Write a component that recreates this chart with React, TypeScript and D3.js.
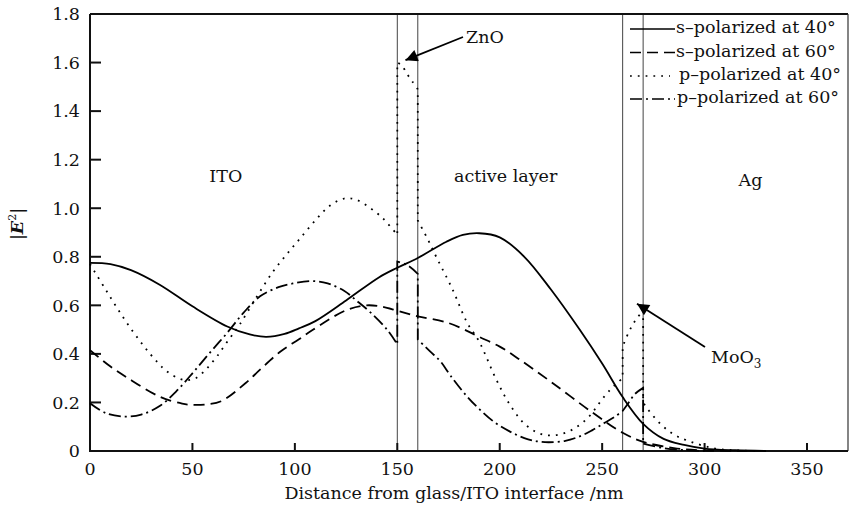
import React from "react";
import * as d3 from "d3";

type Pt = [number, number];

// Axis ticks and layer interfaces (nm)
const xTicks = [0, 50, 100, 150, 200, 250, 300, 350];
const yTicks = [0, 0.2, 0.4, 0.6, 0.8, 1.0, 1.2, 1.4, 1.6, 1.8];
const interfaces = [150, 160, 260, 270];

// |E|^2 for s-polarized light at 40° (continuous across interfaces)
const sPol40: Pt[] = [
  [0, 0.775], [10, 0.77], [20, 0.745], [34, 0.685], [50, 0.596], [67, 0.513],
  [78, 0.48], [86, 0.47], [95, 0.482], [102, 0.505], [110, 0.535], [125, 0.62],
  [141, 0.715], [150, 0.755], [160, 0.795], [174, 0.862], [182, 0.89], [190, 0.897],
  [200, 0.88], [212, 0.8], [225, 0.665], [239, 0.5], [250, 0.36], [260, 0.222],
  [270, 0.112], [280, 0.05], [290, 0.025], [300, 0.01], [315, 0.003], [330, 0],
];

// s-polarized at 60°
const sPol60: Pt[] = [
  [0, 0.415], [10, 0.348], [18, 0.303], [34, 0.224], [45, 0.195], [50, 0.19],
  [57, 0.192], [64, 0.205], [76, 0.28], [83, 0.335], [93, 0.41], [102, 0.46],
  [109, 0.5], [125, 0.58], [135, 0.6], [142, 0.595], [150, 0.578], [160, 0.555],
  [174, 0.53], [184, 0.495], [190, 0.47], [200, 0.43], [210, 0.375], [225, 0.285],
  [245, 0.16], [260, 0.075], [270, 0.038], [285, 0.012], [300, 0.002], [320, 0],
];

// p-polarized at 40°, one array per layer (ITO, ZnO, active, MoO3, Ag)
const pPol40Ito: Pt[] = [
  [0, 0.77], [8, 0.66], [17, 0.54], [26, 0.435], [33, 0.365], [38, 0.325], [44, 0.297],
  [48, 0.292], [52, 0.302], [57, 0.34], [62, 0.39], [67, 0.45], [73, 0.52], [81, 0.63],
  [89, 0.735], [96, 0.81], [102, 0.87], [110, 0.95], [117, 1.01], [124, 1.04],
  [130, 1.035], [140, 0.98], [145, 0.94], [150, 0.89],
];
const pPol40ZnO: Pt[] = [[150, 1.6], [152, 1.59], [155, 1.55], [157.5, 1.52], [160, 1.49]];
const pPol40Active: Pt[] = [
  [160, 0.95], [165, 0.87], [169, 0.8], [177, 0.665], [184, 0.53], [190, 0.45],
  [198, 0.3], [205, 0.19], [213, 0.105], [222, 0.066], [232, 0.075], [242, 0.128],
  [251, 0.224], [256, 0.27], [260, 0.3],
];
const pPol40MoO3: Pt[] = [[260, 0.43], [263, 0.49], [266, 0.535], [270, 0.58]];
const pPol40Ag: Pt[] = [
  [270, 0.2], [272, 0.175], [279, 0.107], [285, 0.068], [291, 0.045], [304, 0.012],
  [315, 0.003], [325, 0],
];

// p-polarized at 60°, one array per layer
const pPol60Ito: Pt[] = [
  [0, 0.197], [8, 0.155], [17, 0.142], [25, 0.15], [34, 0.185], [42, 0.245], [50, 0.32],
  [58, 0.4], [67, 0.487], [75, 0.57], [83, 0.637], [92, 0.675], [99, 0.69], [108, 0.7],
  [116, 0.69], [124, 0.66], [130, 0.62], [137, 0.57], [145, 0.5], [150, 0.44],
];
const pPol60ZnO: Pt[] = [[150, 0.78], [155, 0.765], [160, 0.73]];
const pPol60Active: Pt[] = [
  [160, 0.46], [166, 0.41], [171, 0.37], [176, 0.31], [184, 0.225], [191, 0.165],
  [198, 0.115], [205, 0.08], [212, 0.053], [218, 0.04], [224, 0.036], [232, 0.042],
  [239, 0.06], [245, 0.085], [251, 0.115], [256, 0.14], [260, 0.165],
];
const pPol60MoO3: Pt[] = [[260, 0.165], [263, 0.2], [266, 0.235], [270, 0.26]];
const pPol60Ag: Pt[] = [[270, 0.03], [280, 0.012], [290, 0.004], [300, 0]];

const seriesLabels = [
  "s–polarized at 40°",
  "s–polarized at 60°",
  "p–polarized at 40°",
  "p–polarized at 60°",
];

const W = 849;
const H = 505;
const FONT = "'DejaVu Serif', serif";

const x = d3.scaleLinear().domain([0, 370]).range([90, 848]);
const y = d3.scaleLinear().domain([0, 1.8]).range([451, 14]);

const lineGen = d3
  .line<Pt>()
  .x((d) => x(d[0]))
  .y((d) => y(d[1]))
  .curve(d3.curveCatmullRom.alpha(0.5));

// Joins layer segments into one stroke so the jumps at interfaces are drawn vertically
function joinedPath(segments: Pt[][]): string {
  return segments
    .map((seg, i) => {
      const d = lineGen(seg) || "";
      return i === 0 ? d : "L" + d.slice(1);
    })
    .join("");
}

const styles = [
  { dash: "none" },
  { dash: "11,6" },
  { dash: "1.8,6" },
  { dash: "12,4,2,4" },
];

const paths = [
  joinedPath([sPol40]),
  joinedPath([sPol60]),
  joinedPath([pPol40Ito, pPol40ZnO, pPol40Active, pPol40MoO3, pPol40Ag]),
  joinedPath([pPol60Ito, pPol60ZnO, pPol60Active, pPol60MoO3, pPol60Ag]),
];

export default function App() {
  const fs = 17.5;
  const legendX0 = 630;
  const legendRows = [33, 56.5, 80, 103];
  const legendLineEnd = [675, 675, 670, 675];
  const legendTextX = [676, 676, 679, 677];

  return (
    <svg
      width={W}
      height={H}
      style={{ position: "absolute", left: 0, top: 0, background: "#fff" }}
      fontFamily={FONT}
    >
      <defs>
        <marker
          id="arrowHeadBig"
          viewBox="0 0 10 10"
          refX="10"
          refY="5"
          markerWidth="18"
          markerHeight="12"
          markerUnits="userSpaceOnUse"
          orient="auto"
        >
          <path d="M0,0 L10,5 L0,10 z" fill="#000" />
        </marker>
      </defs>
      <rect x={0} y={0} width={W} height={H} fill="#fff" />

      {/* interface lines */}
      {interfaces.map((v) => (
        <line key={v} x1={x(v)} x2={x(v)} y1={y(1.8)} y2={y(0)} stroke="#444" strokeWidth={1} />
      ))}

      {/* frame */}
      <line x1={x(0)} x2={x(370)} y1={y(1.8)} y2={y(1.8)} stroke="#111" strokeWidth={2} />
      <line x1={x(370)} x2={x(370)} y1={y(1.8)} y2={y(0)} stroke="#333" strokeWidth={1.2} />
      <line x1={x(0)} x2={x(0)} y1={y(1.8)} y2={y(0) + 1} stroke="#111" strokeWidth={2} />
      <line x1={x(0) - 1} x2={x(370)} y1={y(0)} y2={y(0)} stroke="#111" strokeWidth={2} />

      {/* y ticks */}
      {yTicks.map((t) => (
        <g key={t}>
          {t > 0 && t < 1.8 && (
            <line x1={x(0)} x2={x(0) + 11} y1={y(t)} y2={y(t)} stroke="#111" strokeWidth={2} />
          )}
          <text x={80} y={y(t)} dy="0.36em" textAnchor="end" fontSize={fs} fill="#111">
            {t === 0 ? "0" : d3.format(".1f")(t)}
          </text>
        </g>
      ))}

      {/* x ticks */}
      {xTicks.map((t) => (
        <g key={t}>
          {t > 0 && (
            <line x1={x(t)} x2={x(t)} y1={y(0)} y2={y(0) - 8} stroke="#111" strokeWidth={2} />
          )}
          <text x={x(t)} y={469} dy="0.36em" textAnchor="middle" fontSize={fs} fill="#111">
            {t}
          </text>
        </g>
      ))}

      {/* axis titles */}
      <text x={454} y={493} dy="0.36em" textAnchor="middle" fontSize={fs} fill="#111">
        Distance from glass/ITO interface /nm
      </text>
      <text
        transform={`translate(17,224) rotate(-90)`}
        textAnchor="middle"
        dy="0.36em"
        fontSize={fs}
        fill="#111"
      >
        |<tspan fontStyle="italic" fontWeight="bold">E</tspan>
        <tspan fontSize={11} dy="-7">2</tspan>
        <tspan dy="7">|</tspan>
      </text>

      {/* curves */}
      {paths.map((d, i) => (
        <path
          key={i}
          d={d}
          fill="none"
          stroke="#000"
          strokeWidth={1.8}
          strokeDasharray={styles[i].dash}
        />
      ))}

      {/* layer labels */}
      <text x={x(66.3)} y={182} textAnchor="middle" fontSize={fs} fill="#111">ITO</text>
      <text x={x(202.9)} y={182} textAnchor="middle" fontSize={fs} fill="#111">active layer</text>
      <text x={x(322.4)} y={186} textAnchor="middle" fontSize={fs} fill="#111">Ag</text>

      {/* ZnO annotation */}
      <text x={466} y={43} fontSize={fs} fill="#111">ZnO</text>
      <line
        x1={463}
        y1={37}
        x2={x(154)}
        y2={y(1.61)}
        stroke="#000"
        strokeWidth={1.8}
        markerEnd="url(#arrowHeadBig)"
      />

      {/* MoO3 annotation */}
      <text x={711} y={363} fontSize={fs} fill="#111">
        MoO<tspan fontSize={12} dy="5">3</tspan>
      </text>
      <line
        x1={705}
        y1={347}
        x2={x(267)}
        y2={y(0.607)}
        stroke="#000"
        strokeWidth={1.8}
        markerEnd="url(#arrowHeadBig)"
      />

      {/* legend */}
      {seriesLabels.map((label, i) => (
        <g key={label}>
          <line
            x1={legendX0}
            x2={legendLineEnd[i]}
            y1={legendRows[i] - 4}
            y2={legendRows[i] - 4}
            stroke="#000"
            strokeWidth={1.6}
            strokeDasharray={styles[i].dash}
          />
          <text x={legendTextX[i]} y={legendRows[i]} fontSize={fs} fill="#111">
            {label}
          </text>
        </g>
      ))}
    </svg>
  );
}
